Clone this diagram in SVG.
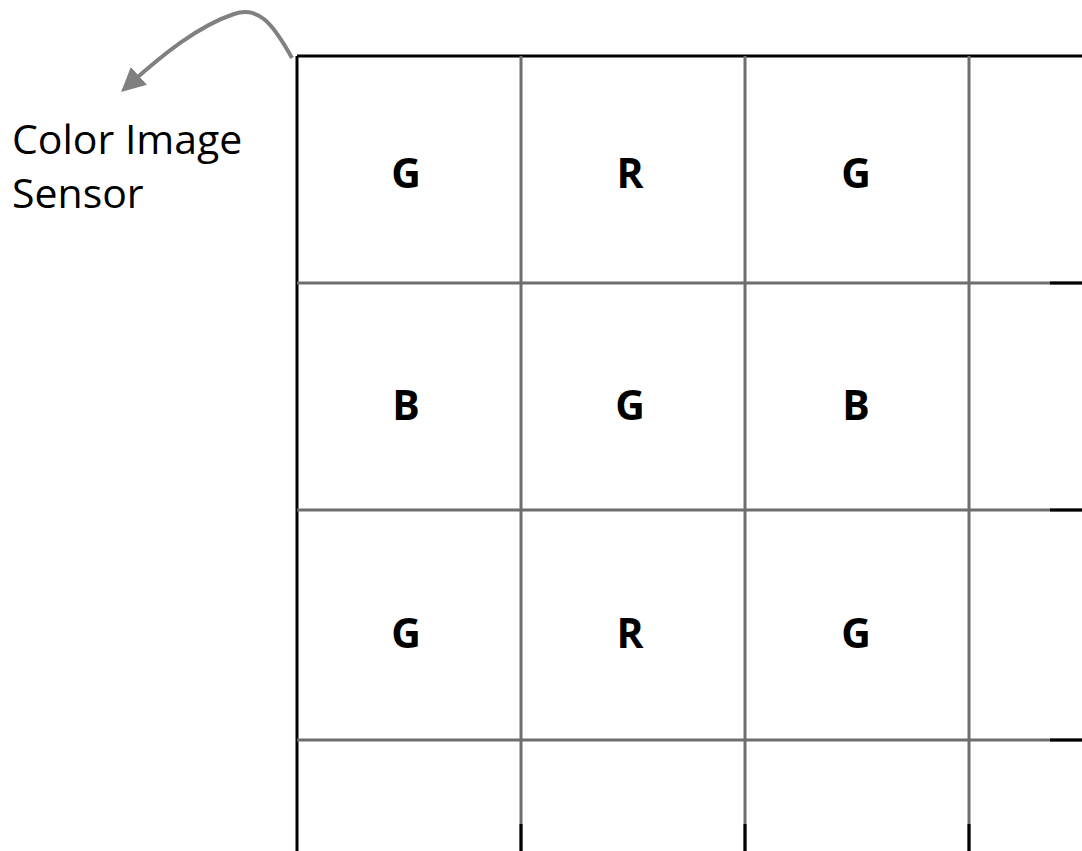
<svg xmlns="http://www.w3.org/2000/svg" width="1082" height="851" viewBox="0 0 1082 851">
<style>
.grid{stroke:#6e6e6e;stroke-width:3;fill:none}
.blk{stroke:#000;stroke-width:3;fill:none}
.lbl{font-family:"Open Sans","Liberation Sans",sans-serif;font-weight:bold;font-size:41px;fill:#000;text-anchor:middle}
.cap{font-family:"Open Sans","Liberation Sans",sans-serif;font-size:41px;fill:#000}
</style>
<defs>
<marker id="ah" markerWidth="6" markerHeight="6" refX="3" refY="3" orient="auto" markerUnits="strokeWidth">
<path d="M0,0 L6,3 L0,6 Z" fill="#808080"/>
</marker>
</defs>
<g id="grid">
<line class="blk" x1="297" y1="56" x2="1082" y2="56"/>
<line class="blk" x1="297" y1="56" x2="297" y2="851"/>
<line class="grid" x1="297" y1="283" x2="1082" y2="283"/>
<line class="grid" x1="297" y1="510" x2="1082" y2="510"/>
<line class="grid" x1="297" y1="740" x2="1082" y2="740"/>
<line class="grid" x1="521" y1="56" x2="521" y2="851"/>
<line class="grid" x1="745" y1="56" x2="745" y2="851"/>
<line class="grid" x1="969" y1="56" x2="969" y2="851"/>
<line class="blk" x1="1050" y1="283" x2="1082" y2="283"/>
<line class="blk" x1="1050" y1="510" x2="1082" y2="510"/>
<line class="blk" x1="1050" y1="740" x2="1082" y2="740"/>
<line class="blk" x1="521" y1="824" x2="521" y2="851"/>
<line class="blk" x1="745" y1="824" x2="745" y2="851"/>
<line class="blk" x1="969" y1="824" x2="969" y2="851"/>
</g>
<g id="cells">
<text class="lbl" x="406" y="188">G</text>
<text class="lbl" x="630" y="188">R</text>
<text class="lbl" x="856" y="188">G</text>
<text class="lbl" x="406" y="420">B</text>
<text class="lbl" x="630" y="420">G</text>
<text class="lbl" x="856" y="420">B</text>
<text class="lbl" x="406" y="648">G</text>
<text class="lbl" x="630" y="648">R</text>
<text class="lbl" x="856" y="648">G</text>
</g>
<g id="label">
<text class="cap" x="12" y="154">Color Image</text>
<text class="cap" x="12" y="208">Sensor</text>
</g>
<g id="connectors">
<path d="M292,58 C272,22 258,6 234,14 C198,26 162,55 130,84" stroke="#808080" stroke-width="4" fill="none" marker-end="url(#ah)"/>
</g>
</svg>
